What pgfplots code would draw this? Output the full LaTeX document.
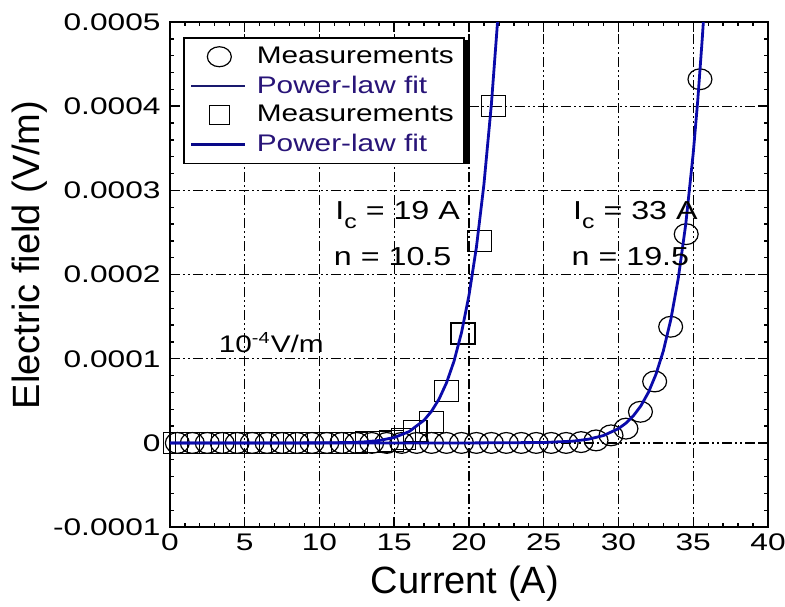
\documentclass[border=0pt]{standalone}
\usepackage{fontspec}
\setmainfont{Liberation Sans}
\usepackage{graphicx}
\usepackage{pgfplots}
\pgfplotsset{compat=1.18}

\definecolor{fitblue}{RGB}{10,10,170}
\definecolor{legnavy}{RGB}{25,25,110}
\definecolor{textnavy}{RGB}{40,20,120}
\newcommand{\wide}[1]{\scalebox{1.24}[1]{#1}}

% squares: Ic = 19 A
\pgfplotstableread{
I E
0.4 0
1.2 0
2.0 0
2.8 0
3.6 0
4.4 0
5.2 0
6.0 0
6.8 0
7.6 0
8.4 0
9.2 0
10.0 0
10.8 0
11.6 0
12.4 0
13.2 0.000001
14.0 0.000001
14.8 0.000002
15.6 0.000005
16.4 0.000014
17.5 0.000025
18.5 0.000062
19.6 0.000130
20.7 0.000240
21.65 0.000400
}\squares

% circles: Ic = 33 A
\pgfplotstableread{
I E
0.5 0
1.5 0
2.5 0
3.5 0
4.5 0
5.5 0
6.5 0
7.5 0
8.5 0
9.5 0
10.5 0
11.5 0
12.5 0
13.5 0
14.5 0
15.5 0
16.5 0
17.5 0
18.5 0
19.5 0
20.5 0
21.5 0
22.5 0
23.5 0
24.5 0
25.5 0
26.5 0
27.5 0.000001
28.5 0.000003
29.5 0.000009
30.5 0.000017
31.47 0.000037
32.42 0.000073
33.49 0.000138
34.53 0.000248
35.45 0.000432
}\circles

% power-law fit, Ic = 19 A
\pgfplotstableread{
I E
0 0
5 0
10 0.00000006
12 0.00000049
13 0.00000124
14 0.0000029
15 0.0000064
16 0.0000135
17 0.0000270
17.5 0.0000377
18 0.0000521
18.5 0.0000714
19 0.0000970
19.5 0.0001308
20 0.0001750
20.5 0.0002325
21 0.0003067
21.5 0.0004020
21.9 0.0004970
22 0.0005237
}\fitA

% power-law fit, Ic = 33 A
\pgfplotstableread{
I E
0 0
20 0.000000006
25 0.00000049
27 0.00000218
28 0.00000444
29 0.0000088
30 0.0000170
30.5 0.0000235
31 0.0000323
31.5 0.0000441
32 0.0000600
32.5 0.0000812
33 0.0001093
33.5 0.0001465
34 0.0001956
34.5 0.0002600
35 0.0003443
35.3 0.0004066
35.6 0.0004795
35.7 0.0005065
}\fitB

\begin{document}
\begin{tikzpicture}
\begin{axis}[
  scale only axis, width=299pt, height=252.5pt,
  xmin=0, xmax=40, ymin=-0.0001, ymax=0.0005,
  xtick={0,5,...,40},
  ytick={-0.0001,0,0.0001,0.0002,0.0003,0.0004,0.0005},
  yticklabels={-0.0001,0,0.0001,0.0002,0.0003,0.0004,0.0005},
  scaled y ticks=false,
  /pgf/number format/assume math mode=true,
  tick label style={font=\fontsize{12}{14}\selectfont, xscale=1.32},
  minor x tick num=4, minor y tick num=4,
  tick align=inside,
  major tick length=5pt, minor tick length=2pt,
  axis line style={line width=1pt},
  every tick/.style={black, line width=0.7pt},
  grid=major,
  major grid style={black, line width=0.6pt,
    dash pattern=on 5pt off 1.5pt on 1pt off 1.5pt on 1pt off 1.5pt},
  xlabel={Current (A)},
  ylabel={Electric field (V/m)},
  every axis x label/.style={at={(rel axis cs:0.493,-0.111)}, anchor=center,
    font=\fontsize{19}{22}\selectfont},
  every axis y label/.style={at={(rel axis cs:-0.234,0.539)}, rotate=90, anchor=center,
    font=\fontsize{19}{22}\selectfont},
  legend cell align=left,
  legend style={name=leg, at={(0.022,0.970)}, anchor=north west,
    font=\fontsize{12}{14}\selectfont, fill=white, draw=black, line width=0.8pt,
    inner xsep=3pt, inner ysep=2.5pt, row sep=0.6pt, column sep=3pt},
  clip mode=individual,
]
\addplot[forget plot, only marks, mark=o, mark size=5.2pt,
  mark options={black, line width=0.6pt, xscale=1.15}] table[x=I,y=E] {\circles};
\addplot[forget plot, only marks, mark=square, mark size=5.2pt,
  mark options={black, line width=0.6pt, xscale=1.15}] table[x=I,y=E] {\squares};
\addplot[forget plot, fitblue, line width=1.4pt] table[x=I,y=E] {\fitA};
\addplot[forget plot, fitblue, line width=1.4pt] table[x=I,y=E] {\fitB};

\addlegendimage{legend image code/.code={\draw[black,line width=0.6pt] (17pt,0pt) ellipse [x radius=6pt, y radius=5pt];}}
\addlegendentry{\wide{Measurements}}
\addlegendimage{legend image code/.code={\draw[legnavy,line width=0.8pt] (3pt,0pt) -- (30pt,0pt);}}
\addlegendentry{\wide{\color{textnavy}Power-law fit}}
\addlegendimage{legend image code/.code={\draw[black,line width=0.6pt] (12pt,-4.8pt) rectangle (22pt,4.8pt);}}
\addlegendentry{\wide{Measurements}}
\addlegendimage{legend image code/.code={\draw[fitblue!80!black,line width=1.5pt] (3pt,0pt) -- (30pt,0pt);}}
\addlegendentry{\wide{\color{textnavy}Power-law fit}}

\node[anchor=west, font=\fontsize{13}{15}\selectfont] at (axis cs:10.6,0.000271)
  {\wide{I\raisebox{-4.5pt}{\fontsize{10}{11}\selectfont c} = 19 A}};
\node[anchor=west, font=\fontsize{13}{15}\selectfont] at (axis cs:10.5,0.000221)
  {\wide{n = 10.5}};
\node[anchor=west, font=\fontsize{13}{15}\selectfont] at (axis cs:26.5,0.000271)
  {\wide{I\raisebox{-4.5pt}{\fontsize{10}{11}\selectfont c} = 33 A}};
\node[anchor=west, font=\fontsize{13}{15}\selectfont] at (axis cs:26.4,0.000221)
  {\wide{n = 19.5}};
\node[anchor=west, font=\fontsize{12}{14}\selectfont] at (axis cs:2.8,0.000119)
  {\wide{10\textsuperscript{-4}V/m}};

\coordinate (bl) at (rel axis cs:-0.284,-0.158);
\coordinate (tr) at (rel axis cs:1.0284,1.0436);
\end{axis}
\draw[black, line width=2.4pt] ([xshift=1.6pt,yshift=-1.5pt]leg.north east) -- ([xshift=1.6pt]leg.south east);
\pgfresetboundingbox
\path[use as bounding box] (bl) rectangle (tr);
\end{tikzpicture}
\end{document}
